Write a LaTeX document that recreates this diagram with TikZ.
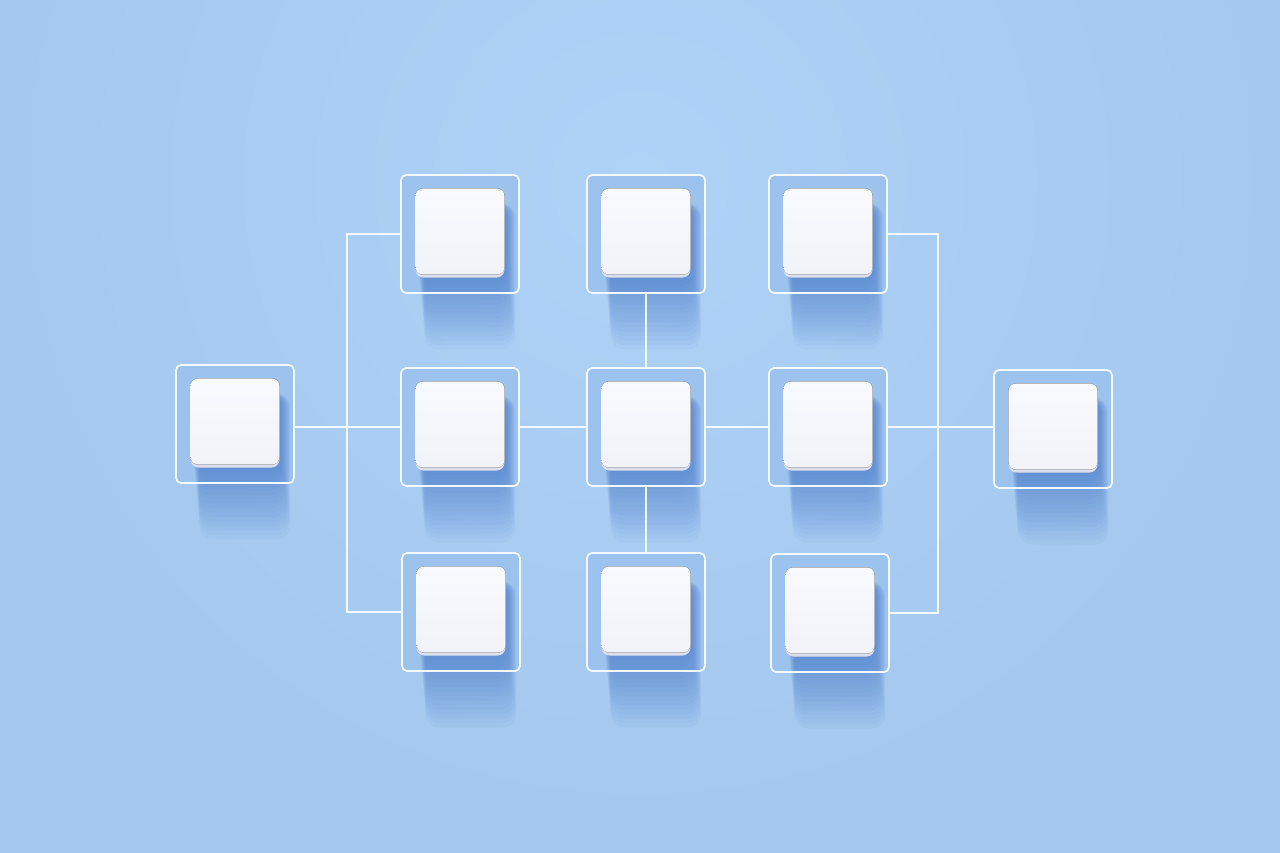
\documentclass[tikz,border=0pt]{standalone}
\usetikzlibrary{calc}
\pgfdeclarelayer{back}
\pgfdeclarelayer{shad}
\pgfsetlayers{back,shad,main}
\definecolor{bg}{HTML}{A4C8EE}
\definecolor{bgl}{HTML}{AFD3F7}
\definecolor{innerfill}{HTML}{9CC2EE}
\definecolor{shadowcol}{HTML}{3A6EC4}
\definecolor{cubeedge}{HTML}{DCDFEC}
\definecolor{cubetop}{HTML}{F9FAFE}
\definecolor{cubebot}{HTML}{F2F3F9}
\definecolor{linkcol}{HTML}{F4F8FF}
\tikzset{
  frame/.style={draw=linkcol, line width=1.8pt, rounded corners=5pt, minimum size=118pt, inner sep=0pt},
  cube/.style={minimum size=89pt, inner sep=0pt, rounded corners=8pt, fill=cubeedge},
  link/.style={draw=linkcol, line width=1.7pt},
}
\begin{document}
\begin{tikzpicture}[x=1pt,y=-1pt]
\useasboundingbox (0,0) rectangle (1280,853);
\begin{pgfonlayer}{back}
  \fill[bg] (0,0) rectangle (1280,853);
  \begin{scope}
    \clip (0,0) rectangle (1280,853);
    \shade[inner color=bgl, outer color=bg] (640,180) circle (650);
  \end{scope}
\end{pgfonlayer}
% frames
\node[frame] (L)  at (235,424) {};
\node[frame] (A1) at (460,234) {};
\node[frame] (A2) at (460,427) {};
\node[frame] (A3) at (461,612) {};
\node[frame] (B1) at (646,234) {};
\node[frame] (B2) at (646,427) {};
\node[frame] (B3) at (646,612) {};
\node[frame] (C1) at (828,234) {};
\node[frame] (C2) at (828,427) {};
\node[frame] (C3) at (830,613) {};
\node[frame] (R)  at (1053,429) {};
\coordinate (jl) at (347,427);
\coordinate (jr) at (938,427);
% frame fills
\begin{pgfonlayer}{back}
  \foreach \n in {L,A1,A2,A3,B1,B2,B3,C1,C2,C3,R}
    \fill[innerfill, rounded corners=5pt] (\n.south west) rectangle (\n.north east);
\end{pgfonlayer}
% connectors
\draw[link] (A1.west) -| (jl) |- (A3.west);
\draw[link] (L.east |- jl) -- (jl) -- (A2.west);
\draw[link] (A2.east) -- (B2.west);
\draw[link] (B2.east) -- (C2.west);
\draw[link] (B1.south) -- (B2.north);
\draw[link] (B2.south) -- (B3.north);
\draw[link] (C1.east) -| (jr) |- (C3.east);
\draw[link] (C2.east) -- (jr) -- (R.west |- jr);
% cubes
\foreach \n in {L,A1,A2,A3,B1,B2,B3,C1,C2,C3,R}{
  \node[cube] (\n c) at ($(\n)+(0,-1)$) {};
  \fill[top color=cubetop, bottom color=cubebot, rounded corners=8pt]
    (\n c.north west) rectangle ($(\n c.south east)+(0,-3)$);
  \begin{pgfonlayer}{shad}
    \foreach \k in {1,...,16}
      \fill[shadowcol, opacity=0.045, rounded corners=14pt]
        ($(\n c.north west)+(3+0.4*\k,15)$) rectangle ($(\n c.south east)+(1+0.6*\k,4.5*\k)$);
  \end{pgfonlayer}
}
\end{tikzpicture}
\end{document}
